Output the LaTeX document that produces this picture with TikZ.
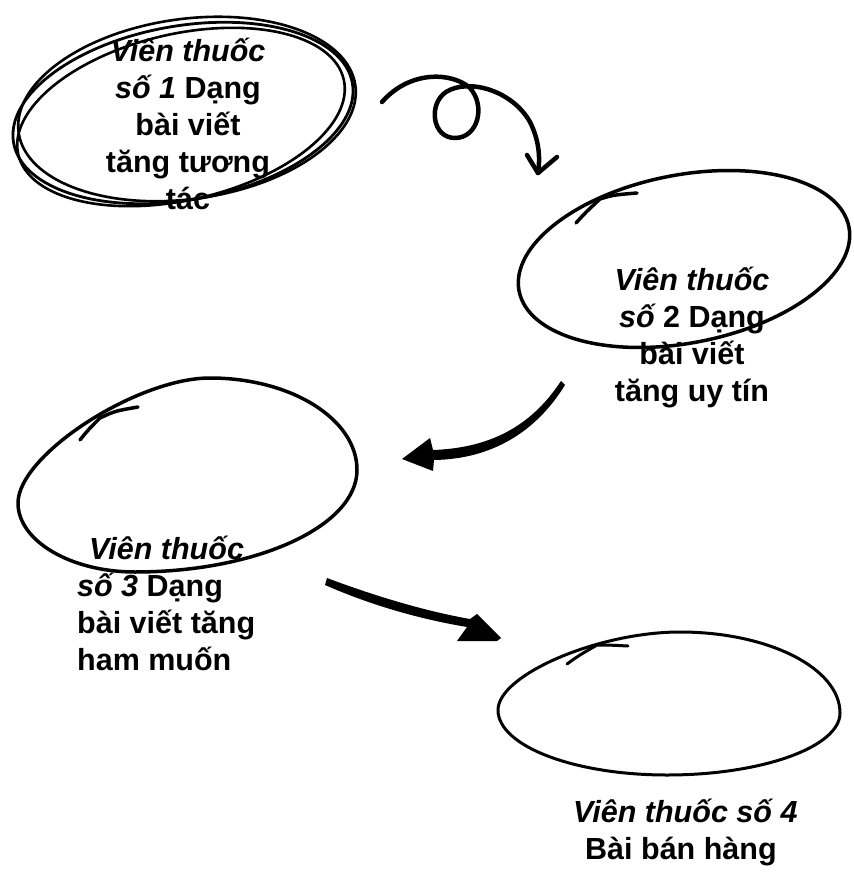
\documentclass[tikz,border=0pt]{standalone}
\usepackage{fontspec}
\setmainfont{Liberation Sans}
\begin{document}
\begin{tikzpicture}[x=1pt,y=-1pt,
  pen/.style={line width=3.5pt, line cap=round, line join=round},
  lbl/.style={inner sep=0pt, font=\fontsize{30.5}{37}\selectfont\bfseries}]
\useasboundingbox[fill=white] (0,0) rectangle (853,874);

% ellipse 1 (scribbled)
\draw[pen, line width=2.8pt, rotate around={10:(183,113)}] (183,113) ellipse [x radius=172, y radius=87];
\draw[pen, line width=2.6pt, rotate around={13:(181,117)}] (181,117) ellipse [x radius=167, y radius=83];
\draw[pen, line width=2.6pt, rotate around={8:(187,109)}] (187,109) ellipse [x radius=170, y radius=90];

% ellipse 2
\draw[pen, rotate around={11:(684,259)}] (684,259) ellipse [x radius=168, y radius=84];
\draw[pen] (576,223) .. controls (586,212) .. (600,199) .. controls (613,195) .. (637,193);

% ellipse 3
\draw[pen] (18,503) .. controls (18,455) and (137,378) .. (210,378)
  .. controls (291,378) and (357,419) .. (357,470)
  .. controls (357,526) and (257,572) .. (135,572)
  .. controls (71,572) and (18,541) .. (18,503) -- cycle;
\draw[pen] (80,440) .. controls (88,430) .. (100,418) .. controls (115,411) .. (138,407);

% ellipse 4
\draw[pen, line width=3pt] (498,710) .. controls (498,675) and (598,632) .. (680,632)
  .. controls (768,632) and (840,668) .. (840,713)
  .. controls (840,747) and (762,775) .. (667,775)
  .. controls (574,775) and (498,746) .. (498,710) -- cycle;
\draw[pen, line width=3pt] (567,664) .. controls (578,656) .. (597,645) .. controls (608,645) .. (628,646);

% texts (base anchor = baseline of last line)
\node[lbl, align=center, anchor=base] (t1) at (188,210)
  {\itshape Viên thuốc\\ \itshape số 1 \upshape Dạng\\ bài viết\\ tăng tương\\ tác};
\node[lbl, align=center, anchor=base] (t2) at (692,401)
  {\itshape Viên thuốc\\ \itshape số \upshape 2 Dạng\\ bài viết\\ tăng uy tín};
\node[lbl, align=left, anchor=base west] (t3) at (77,670)
  {\hspace*{12pt}\itshape Viên thuốc\\ \itshape số 3 \upshape Dạng\\ bài viết tăng\\ ham muốn};
\node[lbl, align=left, anchor=base west] (t4) at (573,859)
  {\itshape Viên thuốc số 4\\ \hspace*{12pt}Bài bán hàng};

% arrow 1 (loop)
\coordinate (a1s) at (382,102);
\coordinate (a1e) at (538,173);
\draw[pen, line width=4.5pt] (a1s) .. controls (410,70) and (452,72) .. (470,88)
  .. controls (486,106) and (478,138) .. (455,138)
  .. controls (432,138) and (428,104) .. (446,92)
  .. controls (468,78) and (512,90) .. (530,122)
  .. controls (540,142) and (540,160) .. (a1e);
\draw[pen, line width=4.5pt] (527,155) -- (a1e) -- (557,157);

% arrow 2
\coordinate (a2s) at (561,381);
\coordinate (a2e) at (402,459);
\fill[line join=round] (a2s) .. controls (530,428) and (488,448) .. (433,450) -- (430,438) -- (a2e)
  -- (433,471) -- (434,460) .. controls (492,459) and (536,432) .. (565,385) -- cycle;

% arrow 3
\coordinate (a3s) at (327,578);
\coordinate (a3e) at (501,638);
\fill (a3s) .. controls (380,598) and (430,612) .. (470,619) -- (477,614) -- (a3e)
  -- (497,641) -- (457,641) -- (467,627) .. controls (425,620) and (375,607) .. (325,585) -- cycle;
\end{tikzpicture}
\end{document}
